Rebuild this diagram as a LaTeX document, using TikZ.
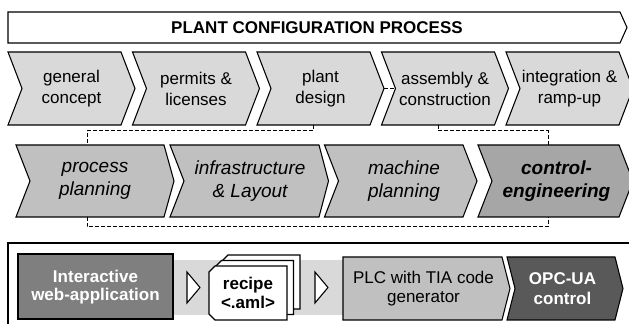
\documentclass[tikz,border=0pt]{standalone}
\usepackage{fontspec}
\setmainfont{Liberation Sans}
\usepackage{tikz}

\begin{document}
\begin{tikzpicture}[x=0.75pt,y=0.75pt,yscale=-1,xscale=1,
  box/.style={draw=black, line width=0.8pt, line join=miter},
  lbl/.style={align=center, inner sep=0.75pt, font=\fontsize{12.75}{15.75}\selectfont},
  lblit/.style={align=center, inner sep=0.75pt, font=\fontsize{14.25}{16.75}\selectfont\itshape},
  link/.style={draw=black, line width=0.75pt, dash pattern={on 3pt off 1.5pt}}]
\useasboundingbox (0,0) rectangle (629,324);
\clip (0,0) rectangle (629,324);

%Shape: Banner [id:title]
\draw [box, fill=white] (8,12) -- (620,12) -- (627,27.5) -- (620,43) -- (8,43) -- cycle ;
% Text Node
\node (title) [lbl, font=\fontsize{12.75}{15}\selectfont\bfseries] at (317,28) {PLANT CONFIGURATION PROCESS};

%Shape: Chevron row 1
\draw [box, fill={rgb, 255:red, 217; green, 217; blue, 217 }] (8,52) -- (121,52) -- (135,88.5) -- (121,125) -- (8,125) -- (22,88.5) -- cycle ;
\draw [box, fill={rgb, 255:red, 217; green, 217; blue, 217 }] (132.5,52) -- (245.5,52) -- (259.5,88.5) -- (245.5,125) -- (132.5,125) -- (146.5,88.5) -- cycle ;
\draw [box, fill={rgb, 255:red, 217; green, 217; blue, 217 }] (257,52) -- (370,52) -- (384,88.5) -- (370,125) -- (257,125) -- (271,88.5) -- cycle ;
\draw [box, fill={rgb, 255:red, 217; green, 217; blue, 217 }] (381.5,52) -- (494.5,52) -- (508.5,88.5) -- (494.5,125) -- (381.5,125) -- (395.5,88.5) -- cycle ;
\draw [box, fill={rgb, 255:red, 217; green, 217; blue, 217 }] (506,52) -- (619,52) -- (633,88.5) -- (619,125) -- (506,125) -- (520,88.5) -- cycle ;

% Text Node
\node (gen) [lbl] at (71.5,89) {general\\concept};
\node (perm) [lbl] at (196,89) {permits \&\\licenses};
\node (pd) [lbl] at (320.5,89) {plant\\design};
\node (asm) [lbl] at (445,89) {assembly \&\\construction};
\node (integ) [lbl] at (569.5,89) {integration \&\\ramp-up};

%Shape: Chevron row 2
\draw [box, fill={rgb, 255:red, 192; green, 192; blue, 192 }] (16,145) -- (164,145) -- (174,181) -- (164,217) -- (16,217) -- (30,181) -- cycle ;
\draw [box, fill={rgb, 255:red, 192; green, 192; blue, 192 }] (170,145) -- (319,145) -- (328.5,181) -- (319,217) -- (170,217) -- (184,181) -- cycle ;
\draw [box, fill={rgb, 255:red, 192; green, 192; blue, 192 }] (324.5,145) -- (463,145) -- (477,181) -- (463,217) -- (324.5,217) -- (338.5,181) -- cycle ;
\draw [box, fill={rgb, 255:red, 166; green, 166; blue, 166 }] (478,145) -- (619,145) -- (633,181) -- (619,217) -- (478,217) -- (492,181) -- cycle ;

% Text Node
\node (proc) [lblit] at (95,181) {process\\planning};
\node (infra) [lblit] at (250,181) {infrastructure\\\& Layout};
\node (mach) [lblit] at (404,181) {machine\\planning};
\node (ctrl) [lblit, font=\fontsize{14.25}{16.75}\selectfont\bfseries\itshape] at (556.5,181) {control-\\engineering};

% Connector points
\coordinate (pdS) at (313,125);
\coordinate (asmS) at (438,125);
\coordinate (pdE) at (384,88.5);
\coordinate (asmW) at (395.5,88.5);
\coordinate (procN) at (87,145);
\coordinate (procS) at (87,217);
\coordinate (ctrlN) at (548,145);
\coordinate (ctrlS) at (548,217);

%Straight Lines [dashed links]
\draw [link] (pdS) -- ++(0,6) -| (procN) ;
\draw [link] (asmS) -- ++(0,6) -| (ctrlN) ;
\draw [link] (procS) -- ++(0,10) -| (ctrlS) ;
\draw [link] (pdE) -- (asmW) ;

%Shape: Frame
\draw [line width=1pt] (8,243) rectangle (640,340) ;
%Shape: Band
\fill [color={rgb, 255:red, 217; green, 217; blue, 217 }] (173,260) rectangle (343,315) ;

%Shape: Web application box
\draw [box, fill={rgb, 255:red, 127; green, 127; blue, 127 }] (18,254) rectangle (173,319) ;
\node (web) [lbl, text=white, font=\fontsize{12.75}{14}\selectfont\bfseries] at (95.5,287) {Interactive\\web-application};

%Shape: Triangles
\draw [box, fill=white] (187,272) -- (200,287.5) -- (187,303) -- cycle ;
\draw [box, fill=white] (315,272) -- (328,287.5) -- (315,303) -- cycle ;

%Shape: Recipe stack
\draw [box, fill=white] (222,261) -- (228,255) -- (300,255) -- (300,309) -- (228,309) -- (222,303) -- cycle ;
\draw [box, fill=white] (215.5,266.5) -- (221.5,260.5) -- (293.5,260.5) -- (293.5,314.5) -- (221.5,314.5) -- (215.5,308.5) -- cycle ;
\draw [box, fill=white] (209,272) -- (215,266) -- (287,266) -- (287,320) -- (215,320) -- (209,314) -- cycle ;
\node (recipe) [lbl, font=\fontsize{12.75}{14.5}\selectfont\bfseries] at (248,293) {recipe\\<.aml>};

%Shape: PLC arrow
\draw [box, fill={rgb, 255:red, 192; green, 192; blue, 192 }] (343,257) -- (502,257) -- (510,288.5) -- (502,320) -- (343,320) -- cycle ;
\node (plc) [lbl, font=\fontsize{12.75}{14.5}\selectfont] at (423.5,288.5) {PLC with TIA code\\generator};

%Shape: OPC arrow
\draw [box, fill={rgb, 255:red, 89; green, 89; blue, 89 }] (507,257) -- (615,257) -- (623,288.5) -- (615,320) -- (507,320) -- (515,288.5) -- cycle ;
\node (opc) [lbl, text=white, font=\fontsize{12.75}{14.5}\selectfont\bfseries] at (562.5,288.5) {OPC-UA\\control};

\end{tikzpicture}
\end{document}
